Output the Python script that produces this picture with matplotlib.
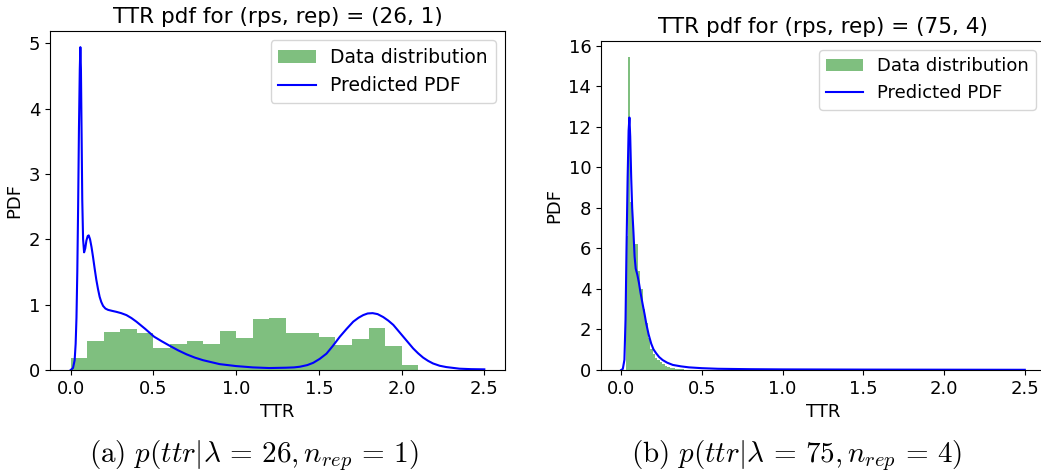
import matplotlib
matplotlib.use("Agg")
import matplotlib.pyplot as plt
import numpy as np

plt.rcParams["mathtext.fontset"] = "cm"

# ---- panel (a): rps = 26, rep = 1 ----
a_bin_start = 0.0
a_bin_width = 0.1
a_hist = [0.18, 0.44, 0.58, 0.63, 0.57, 0.34, 0.40, 0.44, 0.40, 0.59, 0.49,
          0.78, 0.80, 0.57, 0.56, 0.51, 0.39, 0.47, 0.64, 0.37, 0.07]

a_pdf_x = [0.0, 0.014, 0.024, 0.030, 0.035, 0.040, 0.045, 0.050, 0.055, 0.0585,
           0.062, 0.066, 0.070, 0.075, 0.081, 0.088, 0.095, 0.103, 0.109, 0.117,
           0.126, 0.135, 0.145, 0.155, 0.165, 0.175, 0.185, 0.196, 0.21, 0.226,
           0.25, 0.276, 0.305, 0.337, 0.367, 0.397, 0.45, 0.504, 0.55, 0.599,
           0.65, 0.70, 0.75, 0.80, 0.85, 0.90, 1.00, 1.10, 1.20, 1.30, 1.35,
           1.385, 1.43, 1.466, 1.505, 1.546, 1.585, 1.627, 1.668, 1.708, 1.74,
           1.768, 1.795, 1.825, 1.855, 1.889, 1.92, 1.95, 1.98, 2.01, 2.04,
           2.07, 2.10, 2.13, 2.16, 2.19, 2.23, 2.27, 2.35, 2.42, 2.50]
a_pdf_y = [0.0, 0.03, 0.15, 0.4, 0.8, 1.5, 2.5, 3.7, 4.6, 4.94,
           4.6, 3.6, 2.6, 2.0, 1.80, 1.86, 1.98, 2.05, 2.06, 2.0,
           1.88, 1.73, 1.55, 1.38, 1.24, 1.12, 1.04, 0.98, 0.94, 0.92,
           0.905, 0.89, 0.87, 0.84, 0.795, 0.74, 0.63, 0.51, 0.44, 0.37,
           0.30, 0.24, 0.19, 0.15, 0.12, 0.09, 0.06, 0.04, 0.03, 0.035, 0.04,
           0.05, 0.075, 0.11, 0.17, 0.25, 0.37, 0.51, 0.63, 0.74, 0.80,
           0.84, 0.865, 0.87, 0.855, 0.81, 0.755, 0.69, 0.60, 0.51, 0.42,
           0.33, 0.255, 0.19, 0.14, 0.10, 0.065, 0.045, 0.02, 0.013, 0.01]

# ---- panel (b): rps = 75, rep = 4 ----
b_bin_start = 0.027
b_bin_width = 0.0152
b_hist = [6.6, 15.45, 8.3, 6.3, 6.2, 4.9, 4.0, 3.0, 2.3, 1.6, 1.05, 0.78, 0.6,
          0.47, 0.37, 0.28, 0.2, 0.15, 0.11, 0.08, 0.06, 0.05, 0.04, 0.03,
          0.02, 0.02]

b_pdf_x = [0.0, 0.01, 0.02, 0.027, 0.033, 0.040, 0.046, 0.051, 0.056, 0.062,
           0.068, 0.076, 0.083, 0.090, 0.100, 0.110, 0.120, 0.134, 0.145, 0.155,
           0.17, 0.186, 0.20, 0.217, 0.235, 0.257, 0.285, 0.32, 0.37, 0.42,
           0.50, 0.60, 0.80, 1.0, 1.5, 2.0, 2.5]
b_pdf_y = [0.0, 0.05, 0.5, 2.5, 6.0, 9.5, 11.8, 12.45, 11.5, 9.5,
           8.0, 6.8, 5.6, 5.0, 4.7, 4.3, 3.8, 3.2, 2.75, 2.3,
           1.75, 1.3, 1.02, 0.82, 0.64, 0.49, 0.36, 0.25, 0.18, 0.13,
           0.09, 0.06, 0.04, 0.03, 0.02, 0.015, 0.01]

x_ticks = [0.0, 0.5, 1.0, 1.5, 2.0, 2.5]

W, H = 1041, 474
fig = plt.figure(figsize=(W / 100, H / 100), dpi=100)

ax_a = fig.add_axes([50 / W, 1 - 370 / H, 455 / W, 339 / H])
ax_b = fig.add_axes([601 / W, 1 - 370 / H, 444 / W, 329 / H])


def draw_panel(ax, start, width, hist, px, py, title, yticks, legend_size):
    edges = start + width * np.arange(len(hist))
    bars = ax.bar(edges, hist, width=width, align="edge", color="green",
                  alpha=0.5, linewidth=0, label="Data distribution")
    line, = ax.plot(px, py, color="blue", linewidth=1.5, label="Predicted PDF")
    ax.set_title(title, fontsize=15.5)
    ax.set_xlabel("TTR", fontsize=13)
    ax.set_ylabel("PDF", fontsize=13)
    ax.set_xticks(x_ticks)
    ax.set_yticks(yticks)
    ax.tick_params(labelsize=13)
    ax.legend(handles=[bars, line], loc="upper right", fontsize=legend_size)


draw_panel(ax_a, a_bin_start, a_bin_width, a_hist, a_pdf_x, a_pdf_y,
           "TTR pdf for (rps, rep) = (26, 1)", [0, 1, 2, 3, 4, 5], 13.5)
draw_panel(ax_b, b_bin_start, b_bin_width, b_hist, b_pdf_x, b_pdf_y,
           "TTR pdf for (rps, rep) = (75, 4)", list(range(0, 17, 2)), 13)

fig.text(254 / W, 1 - 456 / H,
         r"$\mathrm{(a)}\ p(ttr|\lambda\,=\,26, n_{rep}\,=\,1)$",
         fontsize=21, ha="center", va="center")
fig.text(797 / W, 1 - 456 / H,
         r"$\mathrm{(b)}\ p(ttr|\lambda\,=\,75, n_{rep}\,=\,4)$",
         fontsize=21, ha="center", va="center")

fig.savefig("out.png", dpi=100)
